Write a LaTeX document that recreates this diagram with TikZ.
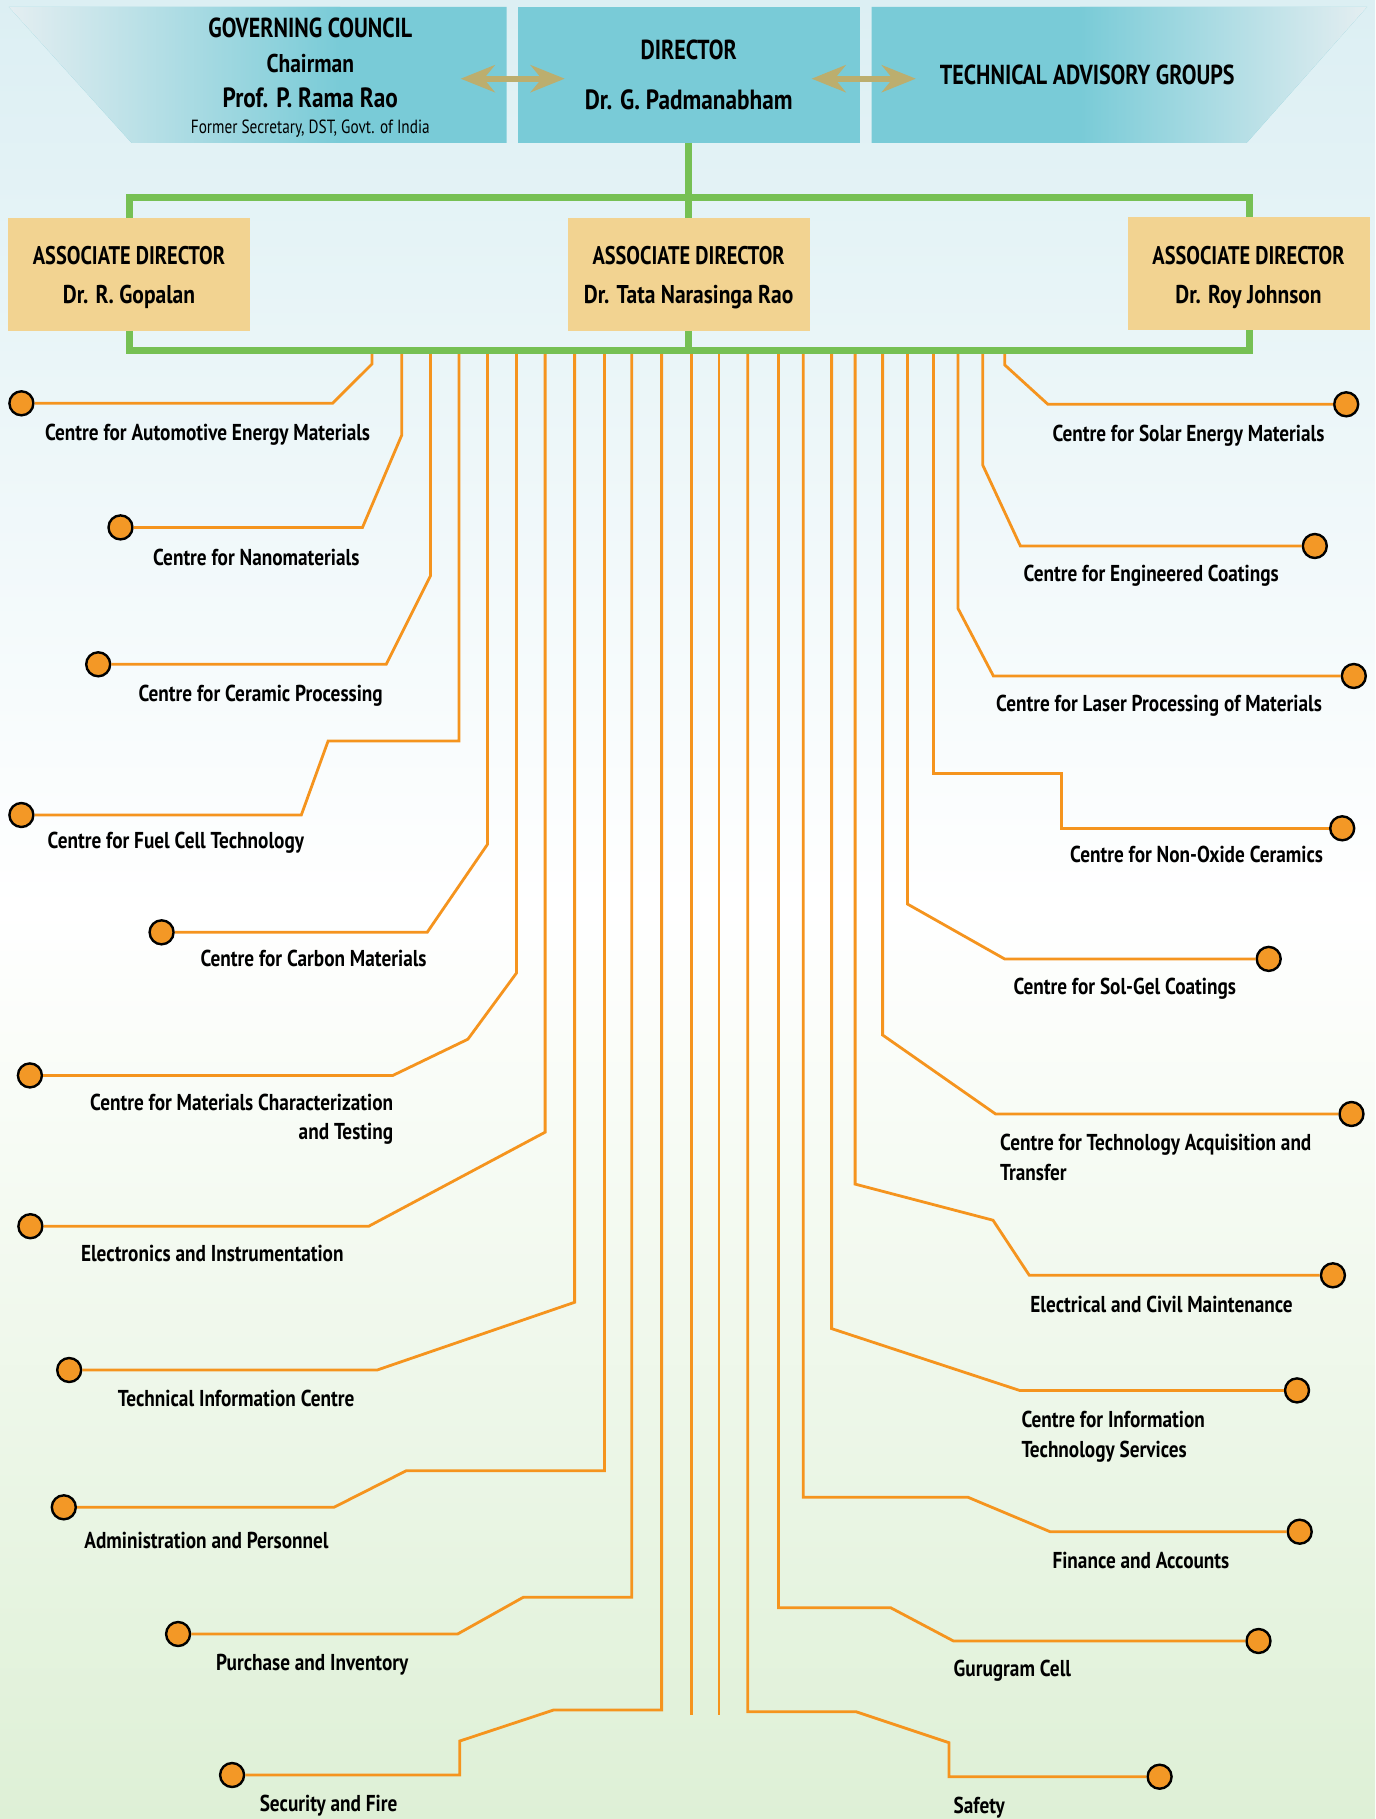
\documentclass[tikz,border=0pt]{standalone}
\usepackage{fontspec}
\setmainfont{PT Sans}[FakeStretch=0.837]
\newfontfamily\capsfamily{PT Sans}[FakeStretch=0.80]
\usetikzlibrary{arrows.meta}
\definecolor{teal1}{RGB}{121,203,215}
\definecolor{tealfade}{RGB}{228,238,241}
\definecolor{assoc}{RGB}{242,211,145}
\definecolor{wirec}{RGB}{245,148,30}
\definecolor{dotc}{RGB}{243,152,38}
\definecolor{greenbar}{RGB}{118,192,84}
\definecolor{bgtop}{RGB}{220,239,243}
\definecolor{bgbot}{RGB}{222,240,214}
\definecolor{arrowc}{RGB}{188,174,110}
\newcommand\lblfont{\bfseries\fontsize{23}{29.5}\selectfont}
\newcommand\hdcaps{\capsfamily\bfseries\fontsize{27.5}{30}\selectfont}
\newcommand\hdcapsmid{\capsfamily\bfseries\fontsize{25.5}{28}\selectfont}
\newcommand\hdbig{\bfseries\fontsize{27.8}{30}\selectfont}
\newcommand\hdmid{\bfseries\fontsize{25.7}{28}\selectfont}
\newcommand\hdsmall{\capsfamily\fontsize{19.1}{22}\selectfont}
\tikzset{
  lbl/.style={font=\lblfont, inner sep=0pt, text=black},
  hdtext/.style={inner sep=0pt, text=black, anchor=base},
  dotnode/.style={circle, fill=dotc, draw=black, line width=2.4pt, minimum size=24pt, inner sep=0pt},
  wire/.style={draw=wirec, line width=2.8pt, line join=miter},
  bus/.style={draw=greenbar, line width=7pt},
  hbox/.style={fill=teal1, inner sep=0pt},
  abox/.style={fill=assoc, inner sep=0pt, minimum width=242pt, minimum height=113pt},
  dblarrow/.style={draw=arrowc, line width=6pt,
    {Stealth[length=34pt,width=27pt,inset=11pt]}-{Stealth[length=34pt,width=27pt,inset=11pt]}}
}
\begin{document}
\begin{tikzpicture}[x=1pt,y=-1pt]
\useasboundingbox (0,0) rectangle (1375,1819);
% background
\shade[top color=bgtop, bottom color=bgbot, middle color=white] (0,0) rectangle (1375,1819);

% header: governing council trapezoid
\fill[teal1] (8.9,7) -- (506.7,7) -- (506.7,143) -- (131.7,143) -- cycle;
\begin{scope}
  \clip (8.9,7) -- (506.7,7) -- (506.7,143) -- (131.7,143) -- cycle;
  \shade[left color=tealfade, right color=teal1] (8.9,7) rectangle (340,143);
\end{scope}
% technical advisory trapezoid
\fill[teal1] (871.5,7) -- (1367,7) -- (1246.5,143) -- (871.5,143) -- cycle;
\begin{scope}
  \clip (871.5,7) -- (1367,7) -- (1246.5,143) -- (871.5,143) -- cycle;
  \shade[left color=teal1, right color=tealfade] (1080,7) rectangle (1367,143);
\end{scope}
% director box
\node[hbox, minimum width=341.6pt, minimum height=136pt] (dir) at (688.7,75) {};

% header texts
\node[hdtext, font=\hdcaps] (gc1) at (310.3,37.3) {GOVERNING COUNCIL};
\node[hdtext, font=\hdmid] (gc2) at (310.3,72.7) {Chairman};
\node[hdtext, font=\hdbig] (gc3) at (310.3,107.3) {Prof. P. Rama Rao};
\node[hdtext, font=\hdsmall] (gc4) at (310.3,133.3) {Former Secretary, DST, Govt. of India};
\node[hdtext, font=\hdcaps] (dr1) at (688.7,60) {DIRECTOR};
\node[hdtext, font=\hdbig] (dr2) at (688.7,110) {Dr. G. Padmanabham};
\node[hdtext, font=\hdcaps] (tag) at (1087.3,85) {TECHNICAL ADVISORY GROUPS};

% double arrows
\coordinate (a1l) at (460.7,78.7); \coordinate (a1r) at (564.7,78.7);
\coordinate (a2l) at (811.6,78.7); \coordinate (a2r) at (915.8,78.7);
\draw[dblarrow] (a1l) -- (a1r);
\draw[dblarrow] (a2l) -- (a2r);

% dots
\node[dotnode] (dA) at (21.4,403.3) {};
\node[dotnode] (dB) at (120.5,527.4) {};
\node[dotnode] (dC) at (98.2,664.3) {};
\node[dotnode] (dD) at (21.4,815) {};
\node[dotnode] (dE) at (161.6,932.3) {};
\node[dotnode] (dF) at (29.9,1075.4) {};
\node[dotnode] (dG) at (30.4,1226.2) {};
\node[dotnode] (dH) at (69.2,1370) {};
\node[dotnode] (dI) at (63.8,1507.3) {};
\node[dotnode] (dJ) at (178.1,1634) {};
\node[dotnode] (dK) at (232.1,1775) {};
\node[dotnode] (dL) at (1346.2,404.3) {};
\node[dotnode] (dM) at (1314.8,546) {};
\node[dotnode] (dN) at (1353.8,676) {};
\node[dotnode] (dO) at (1342.2,828.3) {};
\node[dotnode] (dP) at (1268.7,958.9) {};
\node[dotnode] (dQ) at (1351.5,1114) {};
\node[dotnode] (dR) at (1332.9,1275.3) {};
\node[dotnode] (dS) at (1297,1390.4) {};
\node[dotnode] (dT) at (1299.7,1531.7) {};
\node[dotnode] (dU) at (1258.5,1641) {};
\node[dotnode] (dV) at (1159.6,1776.7) {};

% wire starts on the bus
\coordinate (sA) at (372,350);
\coordinate (sB) at (401.8,350);
\coordinate (sC) at (430.4,350);
\coordinate (sD) at (458.9,350);
\coordinate (sE) at (487.5,350);
\coordinate (sF) at (516.5,350);
\coordinate (sG) at (545.1,350);
\coordinate (sH) at (574.6,350);
\coordinate (sI) at (604.5,350);
\coordinate (sJ) at (631.7,350);
\coordinate (sK) at (661.6,350);
\coordinate (sW) at (691.1,350); \coordinate (eW) at (691.1,1715);
\coordinate (sX) at (719,350);   \coordinate (eX) at (719,1715);
\coordinate (sV) at (747.8,350);
\coordinate (sU) at (778.4,350);
\coordinate (sT) at (803.2,350);
\coordinate (sS) at (831.6,350);
\coordinate (sR) at (855.1,350);
\coordinate (sQ) at (882.6,350);
\coordinate (sP) at (907.4,350);
\coordinate (sO) at (933.5,350);
\coordinate (sN) at (957.9,350);
\coordinate (sM) at (982.7,350);
\coordinate (sL) at (1004.8,350);

% wires, left side
\draw[wire] (sA) -- (372,364) -- (332.6,403.3) -- (dA);
\draw[wire] (sB) -- (401.8,435) -- (362.5,527.4) -- (dB);
\draw[wire] (sC) -- (430.4,576) -- (386.2,664.3) -- (dC);
\draw[wire] (sD) -- (458.9,741) -- (328.1,741) -- (301.3,815) -- (dD);
\draw[wire] (sE) -- (487.5,844.3) -- (427.2,932.3) -- (dE);
\draw[wire] (sF) -- (516.5,973) -- (467.9,1039.2) -- (392.9,1075.4) -- (dF);
\draw[wire] (sG) -- (545.1,1132.2) -- (368.8,1226.2) -- (dG);
\draw[wire] (sH) -- (574.6,1302.3) -- (377.2,1370) -- (dH);
\draw[wire] (sI) -- (604.5,1470.7) -- (406.3,1470.7) -- (333.9,1507.3) -- (dI);
\draw[wire] (sJ) -- (631.7,1597.3) -- (523.2,1597.3) -- (457.6,1634) -- (dJ);
\draw[wire] (sK) -- (661.6,1710) -- (553.6,1710) -- (459.8,1741) -- (459.8,1775) -- (dK);
% centre wires
\draw[wire] (sW) -- (eW);
\draw[wire] (sX) -- (eX);
% wires, right side
\draw[wire] (sL) -- (1004.8,365) -- (1047.9,404.3) -- (dL);
\draw[wire] (sM) -- (982.7,465) -- (1020.4,546) -- (dM);
\draw[wire] (sN) -- (957.9,608.3) -- (993.4,676) -- (dN);
\draw[wire] (sO) -- (933.5,773.3) -- (1061.2,773.3) -- (1061.2,828.3) -- (dO);
\draw[wire] (sP) -- (907.4,904) -- (1004.5,958.9) -- (dP);
\draw[wire] (sQ) -- (882.6,1035) -- (995.6,1114) -- (dQ);
\draw[wire] (sR) -- (855.1,1184.1) -- (993,1220.2) -- (1029.3,1275.3) -- (dR);
\draw[wire] (sS) -- (831.6,1328.6) -- (1019.5,1390.4) -- (dS);
\draw[wire] (sT) -- (803.2,1497.3) -- (968.1,1497.3) -- (1050.1,1531.7) -- (dT);
\draw[wire] (sU) -- (778.4,1607.7) -- (890.6,1607.7) -- (953.5,1641) -- (dU);
\draw[wire] (sV) -- (747.8,1711.7) -- (856,1711.7) -- (949,1742.7) -- (949,1776.7) -- (dV);

% green bus
\coordinate (bTL) at (129.5,198); \coordinate (bTR) at (1249,198);
\coordinate (bBL) at (129.5,350); \coordinate (bBR) at (1249,350);
\coordinate (bC) at (688.7,350);
\draw[bus] (bTL) -- (bTR) -- (bBR) -- (bBL) -- cycle;
\draw[bus] (dir.south) -- (bC);

% associate director boxes
\node[abox] (ad1) at (129,274.4) {};
\node[abox] (ad2) at (688.6,274.4) {};
\node[abox] (ad3) at (1248.5,273.5) {};
\node[hdtext, font=\hdcapsmid] (ad1a) at (129,265) {ASSOCIATE DIRECTOR};
\node[hdtext, font=\hdmid] (ad1b) at (129,303.3) {Dr. R. Gopalan};
\node[hdtext, font=\hdcapsmid] (ad2a) at (688.6,265) {ASSOCIATE DIRECTOR};
\node[hdtext, font=\hdmid] (ad2b) at (688.6,303.3) {Dr. Tata Narasinga Rao};
\node[hdtext, font=\hdcapsmid] (ad3a) at (1248.5,265) {ASSOCIATE DIRECTOR};
\node[hdtext, font=\hdmid] (ad3b) at (1248.5,303.3) {Dr. Roy Johnson};

% labels, left side
\node[lbl, anchor=base] (lA) at (207.6,440) {Centre for Automotive Energy Materials};
\node[lbl, anchor=base] (lB) at (256.3,565) {Centre for Nanomaterials};
\node[lbl, anchor=base] (lC) at (260.7,701.7) {Centre for Ceramic Processing};
\node[lbl, anchor=base] (lD) at (175.9,848.3) {Centre for Fuel Cell Technology};
\node[lbl, anchor=base] (lE) at (313.6,966.6) {Centre for Carbon Materials};
\node[lbl, anchor=base east] (lF) at (393.3,1110.4) {\begin{tabular}[t]{@{}r@{}}Centre for Materials Characterization\\and Testing\end{tabular}};
\node[lbl, anchor=base] (lG) at (212.3,1261.3) {Electronics and Instrumentation};
\node[lbl, anchor=base] (lH) at (236.2,1406.8) {Technical Information Centre};
\node[lbl, anchor=base] (lI) at (206.5,1548.3) {Administration and Personnel};
\node[lbl, anchor=base] (lJ) at (312.3,1670) {Purchase and Inventory};
\node[lbl, anchor=base] (lK) at (328.6,1811.7) {Security and Fire};
% labels, right side
\node[lbl, anchor=base west] (lL) at (1052.3,441.7) {Centre for Solar Energy Materials};
\node[lbl, anchor=base west] (lM) at (1023.5,581.7) {Centre for Engineered Coatings};
\node[lbl, anchor=base west] (lN) at (996,711) {Centre for Laser Processing of Materials};
\node[lbl, anchor=base west] (lO) at (1070,862.7) {Centre for Non-Oxide Ceramics};
\node[lbl, anchor=base west] (lP) at (1013.3,994.7) {Centre for Sol-Gel Coatings};
\node[lbl, anchor=base west] (lQ) at (1000,1150.8) {\begin{tabular}[t]{@{}l@{}}Centre for Technology Acquisition and\\Transfer\end{tabular}};
\node[lbl, anchor=base west] (lR) at (1030.2,1312.1) {Electrical and Civil Maintenance};
\node[lbl, anchor=base west] (lS) at (1021.3,1427.9) {\begin{tabular}[t]{@{}l@{}}Centre for Information\\Technology Services\end{tabular}};
\node[lbl, anchor=base west] (lT) at (1052.3,1568.3) {Finance and Accounts};
\node[lbl, anchor=base west] (lU) at (953.5,1676.7) {Gurugram Cell};
\node[lbl, anchor=base west] (lV) at (953.5,1813.3) {Safety};
\end{tikzpicture}
\end{document}
